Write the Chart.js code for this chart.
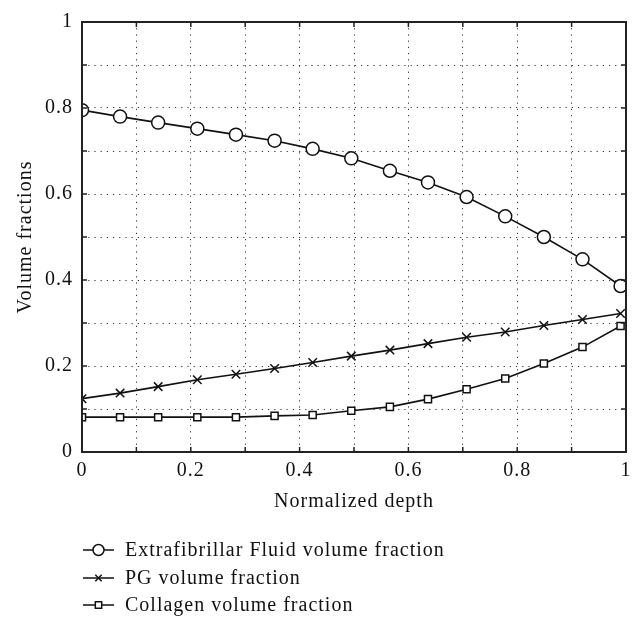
<!DOCTYPE html>
<html>
<head>
<meta charset="utf-8">
<script src="https://cdn.jsdelivr.net/npm/chart.js@4.4.1/dist/chart.umd.min.js"></script>
<style>
    html, body { margin: 0; padding: 0; background: #fff; }
    #wrap { width: 642px; height: 633px; }
</style>
</head>
<body>
<div id="wrap"><canvas id="volChart" width="642" height="633"></canvas></div>
<script>
// normalized depth of each sample
const depth = [0, 0.07, 0.14, 0.212, 0.283, 0.354, 0.424, 0.495, 0.566, 0.636, 0.707, 0.778, 0.849, 0.92, 0.99];
const fluidFraction = [0.795, 0.780, 0.766, 0.752, 0.738, 0.724, 0.705, 0.683, 0.654, 0.627, 0.593, 0.548, 0.500, 0.448, 0.386];
const pgFraction = [0.124, 0.137, 0.152, 0.168, 0.181, 0.194, 0.208, 0.223, 0.237, 0.252, 0.267, 0.279, 0.294, 0.308, 0.322];
const collagenFraction = [0.081, 0.081, 0.081, 0.081, 0.081, 0.084, 0.086, 0.096, 0.105, 0.123, 0.146, 0.171, 0.206, 0.244, 0.293];
const tickLabels = ["0", "0.2", "0.4", "0.6", "0.8", "1"];

const seriesNames = [
    "Extrafibrillar Fluid volume fraction",
    "PG volume fraction",
    "Collagen volume fraction"
];
const pointStyles = ["circle", "crossRot", "rect"];
const pointSizes = [6.5, 6, 5];

const FONT = "'Liberation Serif', 'DejaVu Serif', serif";
const FONT_SIZE = 20;

function toPoints(ys) {
    return depth.map((x, i) => ({ x: x, y: ys[i] }));
}

function tickText(value) {
    const v = Math.round(value * 10) / 10;
    const s = v === 0 ? "0" : (v === 1 ? "1" : v.toFixed(1));
    return tickLabels.includes(s) ? s : "";
}

// the reference type is wider than Liberation Serif, so space the letters a little
// (canvas resets this whenever it is resized, so set it again before each pass)
const wideText = {
    id: "wideText",
    beforeUpdate(chart) { chart.ctx.letterSpacing = "1px"; },
    beforeDraw(chart) { chart.ctx.letterSpacing = "1px"; }
};

// inward tick marks on all four sides, plus the frame
const frameTicks = {
    id: "frameTicks",
    afterDraw(chart) {
        const { ctx, chartArea: a, scales } = chart;
        ctx.save();
        ctx.strokeStyle = "#222";
        ctx.lineWidth = 1.5;
        scales.x.ticks.forEach(t => {
            const px = scales.x.getPixelForValue(t.value);
            ctx.beginPath();
            ctx.moveTo(px, a.bottom); ctx.lineTo(px, a.bottom - 5);
            ctx.moveTo(px, a.top); ctx.lineTo(px, a.top + 5);
            ctx.stroke();
        });
        scales.y.ticks.forEach(t => {
            const py = scales.y.getPixelForValue(t.value);
            ctx.beginPath();
            ctx.moveTo(a.left, py); ctx.lineTo(a.left + 5, py);
            ctx.moveTo(a.right, py); ctx.lineTo(a.right - 5, py);
            ctx.stroke();
        });
        ctx.lineWidth = 2;
        ctx.strokeRect(a.left, a.top, a.right - a.left, a.bottom - a.top);
        ctx.restore();
    }
};

// legend below the plot: line sample with marker, then the name
const lineLegend = {
    id: "lineLegend",
    afterDraw(chart) {
        const ctx = chart.ctx;
        const rows = [550, 578, 605];
        ctx.save();
        ctx.font = FONT_SIZE + "px " + FONT;
        ctx.textBaseline = "middle";
        chart.data.datasets.forEach((ds, i) => {
            const y = rows[i];
            ctx.strokeStyle = "#111";
            ctx.lineWidth = 1.5;
            ctx.beginPath();
            ctx.moveTo(83, y); ctx.lineTo(114, y);
            ctx.stroke();
            ctx.fillStyle = "#fff";
            Chart.helpers.drawPoint(ctx, {
                pointStyle: ds.pointStyle,
                radius: i === 0 ? 5.5 : 4.5,
                borderWidth: 1.3,
                rotation: 0
            }, 98.5, y);
            ctx.fillStyle = "#111";
            ctx.fillText(ds.label, 125, y + 1);
        });
        ctx.restore();
    }
};

const ctx = document.getElementById("volChart").getContext("2d");

const volChart = new Chart(ctx, {
    type: "line",
    data: {
        datasets: [fluidFraction, pgFraction, collagenFraction].map((ys, i) => ({
            label: seriesNames[i],
            data: toPoints(ys),
            borderColor: "#111",
            borderWidth: 1.6,
            pointStyle: pointStyles[i],
            pointRadius: pointSizes[i],
            pointBorderWidth: 1.5,
            pointBackgroundColor: "#fff",
            pointBorderColor: "#111",
            tension: 0
        }))
    },
    options: {
        responsive: false,
        animation: false,
        layout: { padding: { left: 0, top: 22, right: 16, bottom: 111 } },
        plugins: {
            legend: { display: false },
            tooltip: { enabled: false }
        },
        scales: {
            x: {
                type: "linear",
                min: 0,
                max: 1,
                afterFit(scale) { scale.height = 70; },
                border: { display: false, dash: [1.2, 5] },
                grid: {
                    color: "#333",
                    lineWidth: 1,
                    drawTicks: false
                },
                ticks: {
                    stepSize: 0.1,
                    autoSkip: false,
                    maxRotation: 0,
                    padding: 7,
                    color: "#111",
                    font: { family: FONT, size: FONT_SIZE },
                    callback: v => tickText(v)
                },
                title: {
                    display: true,
                    text: "Normalized depth",
                    color: "#111",
                    font: { family: FONT, size: FONT_SIZE },
                    padding: { top: 0, bottom: 8 }
                }
            },
            y: {
                min: 0,
                max: 1,
                afterFit(scale) { scale.width = 82; },
                border: { display: false, dash: [1.2, 5] },
                grid: {
                    color: "#333",
                    lineWidth: 1,
                    drawTicks: false
                },
                ticks: {
                    stepSize: 0.1,
                    autoSkip: false,
                    padding: 9,
                    color: "#111",
                    font: { family: FONT, size: FONT_SIZE },
                    callback: v => tickText(v)
                },
                title: {
                    display: true,
                    text: "Volume fractions",
                    color: "#111",
                    font: { family: FONT, size: FONT_SIZE },
                    padding: { top: 14, bottom: 0 }
                }
            }
        }
    },
    plugins: [wideText, frameTicks, lineLegend]
});
</script>
</body>
</html>
